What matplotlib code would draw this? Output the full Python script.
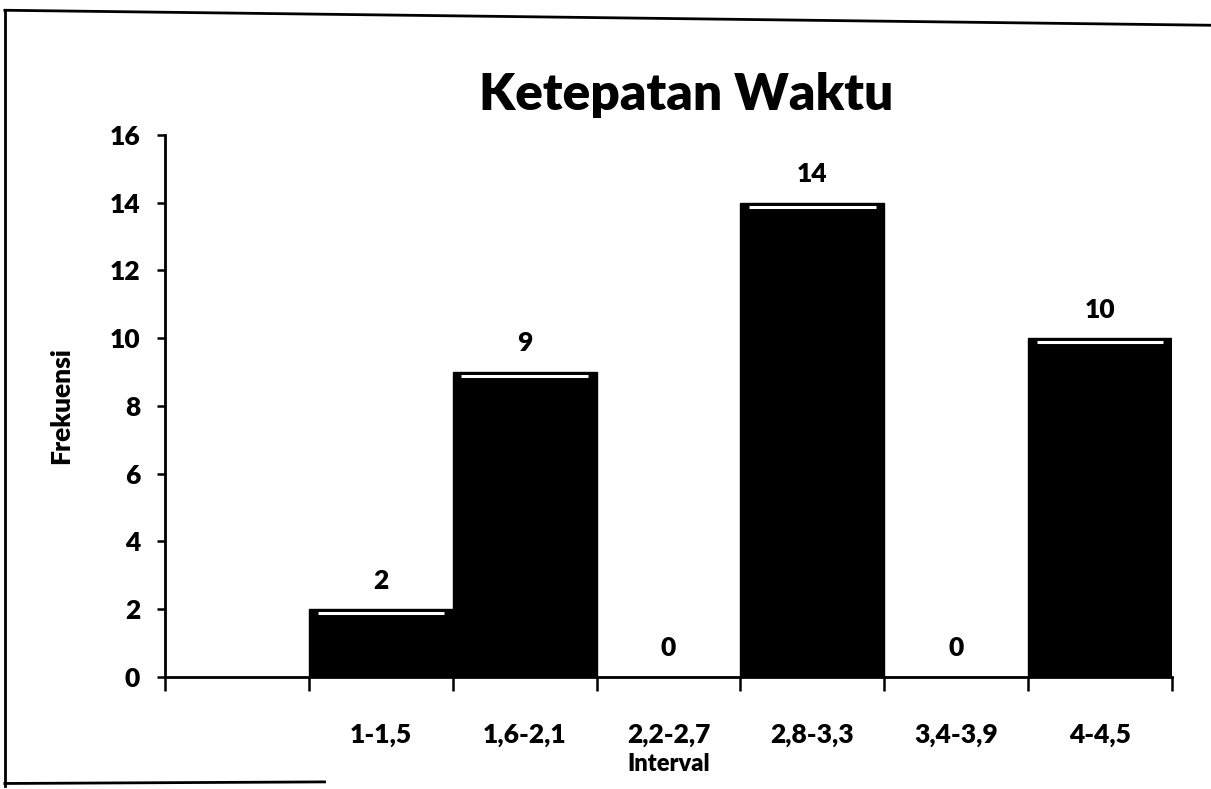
import matplotlib.pyplot as plt
from matplotlib.lines import Line2D

# Data
categories = ['', '1-1,5', '1,6-2,1', '2,2-2,7', '2,8-3,3', '3,4-3,9', '4-4,5']
frequencies = [None, 2, 9, 0, 14, 0, 10]

plt.rcParams['font.family'] = ['Lato', 'DejaVu Sans']
plt.rcParams['font.weight'] = 'heavy'

fig = plt.figure(figsize=(12.11, 7.89), dpi=100)
ax = fig.add_axes([0.1363, 0.1420, 0.8315, 0.6869])

# Bars (first slot is empty)
xs = [i for i, v in enumerate(frequencies) if v is not None]
vals = [v for v in frequencies if v is not None]
ax.bar(xs, vals, width=1.0, color='black', edgecolor='black', linewidth=1)

# white highlight just below the top of each bar, plus value labels
for x, v in zip(xs, vals):
    if v > 0:
        ax.hlines(v - 0.12, x - 0.44, x + 0.44, color='white', linewidth=2.2, zorder=3)
    ax.annotate(str(v), (x, v), xytext=(0, 12), textcoords='offset points',
                ha='center', va='bottom', fontsize=19, fontweight='heavy')

ax.set_xlim(-0.5, len(categories) - 0.5)
ax.set_ylim(0, 16)
ax.set_yticks(range(0, 17, 2))
ax.tick_params(axis='y', direction='out', length=6, width=1.8, labelsize=19, pad=12)

# ticks at category boundaries, labels at centres
ax.set_xticks([i - 0.5 for i in range(len(categories) + 1)])
ax.set_xticklabels([''] * (len(categories) + 1))
ax.tick_params(axis='x', which='major', direction='out', length=10, width=1.8)
ax.set_xticks(range(len(categories)), minor=True)
ax.set_xticklabels(categories, minor=True, fontsize=19, fontweight='heavy')
ax.tick_params(axis='x', which='minor', length=0, pad=33)

for s in ['top', 'right']:
    ax.spines[s].set_visible(False)
for s in ['left', 'bottom']:
    ax.spines[s].set_linewidth(2)

ax.set_ylabel('Frekuensi', fontsize=19, fontweight='heavy')
ax.yaxis.set_label_coords(-0.091, 0.5)
ax.set_xlabel('Interval', fontsize=17, fontweight='heavy')
ax.xaxis.set_label_coords(0.5, -0.140)

fig.text(0.567, 0.88, 'Ketepatan Waktu', ha='center', va='center',
         fontsize=37, fontweight='heavy')

# outer border of the scanned chart area
border = [([0.004, 0.004], [0.987, 0.004]),
          ([0.004, 1.0], [0.987, 0.968]),
          ([0.004, 0.268], [0.007, 0.009])]
for bx, by in border:
    fig.add_artist(Line2D(bx, by, transform=fig.transFigure, color='black', linewidth=2))

fig.savefig('out.png', dpi=100)
